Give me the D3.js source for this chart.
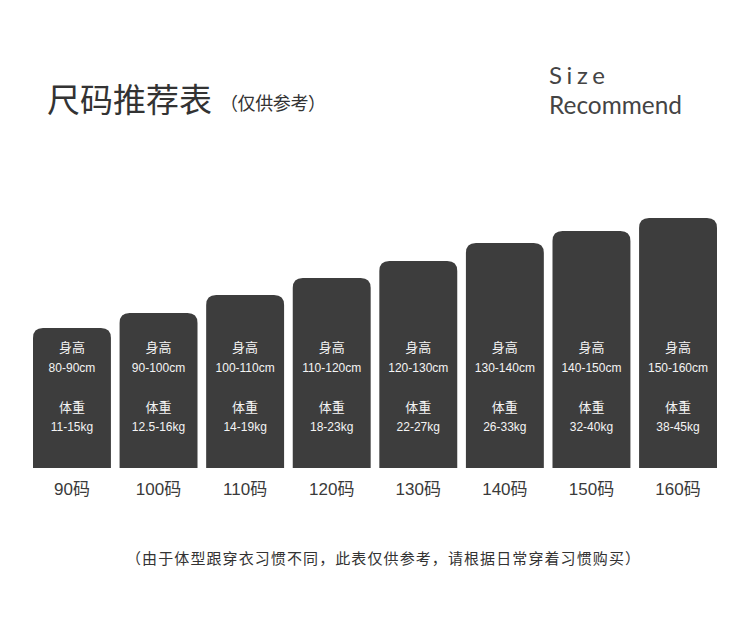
<!DOCTYPE html>
<html>
<head>
<meta charset="utf-8">
<title>尺码推荐表</title>
<script src="https://cdn.jsdelivr.net/npm/d3@7/dist/d3.min.js"></script>
<style>
    html, body { margin: 0; padding: 0; background: #fff; }
    svg { display: block; }
    .cjk { font-family: "Noto Sans CJK SC", "Liberation Sans", sans-serif; }
</style>
</head>
<body>
<svg width="750" height="631"></svg>
<script>
    // sizes along the x axis
    const sizes = ["90码", "100码", "110码", "120码", "130码", "140码", "150码", "160码"];
    // bar heights as drawn (px above the base line)
    const barHeights = [140, 155, 173, 190, 207, 225, 237, 250];
    const heightRanges = ["80-90cm", "90-100cm", "100-110cm", "110-120cm", "120-130cm", "130-140cm", "140-150cm", "150-160cm"];
    const weightRanges = ["11-15kg", "12.5-16kg", "14-19kg", "18-23kg", "22-27kg", "26-33kg", "32-40kg", "38-45kg"];

    const svg = d3.select("svg");
    const bg = "#3d3d3d", ink = "#333";

    const x = d3.scaleBand().domain(sizes).range([33, 717]).paddingInner(0.1).paddingOuter(0);
    const y = d3.scaleLinear().domain([0, 250]).range([468, 218]);

    // title
    svg.append("text").attr("class", "cjk")
        .attr("x", 47).attr("y", 112)
        .attr("font-size", 33).attr("fill", ink)
        .text("尺码推荐表");
    svg.append("text").attr("class", "cjk")
        .attr("x", 220).attr("y", 110)
        .attr("font-size", 18).attr("fill", ink)
        .attr("textLength", 106).attr("lengthAdjust", "spacing")
        .text("（仅供参考）");

    svg.append("text")
        .attr("x", 549).attr("y", 84)
        .attr("font-family", "Lato, 'Liberation Sans', sans-serif")
        .attr("font-size", 24).attr("fill", "#444")
        .attr("textLength", 56).attr("lengthAdjust", "spacing")
        .text("Size");
    svg.append("text")
        .attr("x", 549).attr("y", 114)
        .attr("font-family", "Lato, 'Liberation Sans', sans-serif")
        .attr("font-size", 25).attr("fill", "#444")
        .attr("textLength", 133).attr("lengthAdjust", "spacingAndGlyphs")
        .text("Recommend");

    // bars with rounded top corners only
    const r = 10;
    function barPath(d, i) {
        const x0 = x(d), w = x.bandwidth(), y0 = y(barHeights[i]), y1 = y(0);
        return `M${x0},${y1}V${y0 + r}Q${x0},${y0} ${x0 + r},${y0}H${x0 + w - r}Q${x0 + w},${y0} ${x0 + w},${y0 + r}V${y1}Z`;
    }

    const g = svg.selectAll(".bar").data(sizes).enter().append("g").attr("class", "bar");
    g.append("path").attr("d", barPath).attr("fill", bg);

    const cx = d => x(d) + x.bandwidth() / 2;
    const inner = [
        { yy: 347, size: 13, txt: () => "身高" },
        { yy: 368, size: 12, txt: (d, i) => heightRanges[i] },
        { yy: 407, size: 13, txt: () => "体重" },
        { yy: 427, size: 12, txt: (d, i) => weightRanges[i] }
    ];
    inner.forEach(t => {
        g.append("text").attr("class", "cjk")
            .attr("x", cx).attr("y", t.yy)
            .attr("text-anchor", "middle").attr("dominant-baseline", "central")
            .attr("font-size", t.size).attr("fill", "#f4f4f4")
            .style("font-family", "'Liberation Sans', 'Noto Sans CJK SC', sans-serif")
            .text(t.txt);
    });

    // size labels under bars
    g.append("text").attr("class", "cjk")
        .attr("x", cx).attr("y", 489)
        .attr("text-anchor", "middle").attr("dominant-baseline", "central")
        .attr("font-size", 17).attr("fill", "#3a3a3a")
        .style("font-family", "'Liberation Sans', 'Noto Sans CJK SC', sans-serif")
        .text(d => d);

    // footnote
    svg.append("text").attr("class", "cjk")
        .attr("x", 383).attr("y", 557)
        .attr("text-anchor", "middle").attr("dominant-baseline", "central")
        .attr("font-size", 15).attr("fill", ink)
        .attr("textLength", 514).attr("lengthAdjust", "spacing")
        .text("（由于体型跟穿衣习惯不同，此表仅供参考，请根据日常穿着习惯购买）");
</script>
</body>
</html>
